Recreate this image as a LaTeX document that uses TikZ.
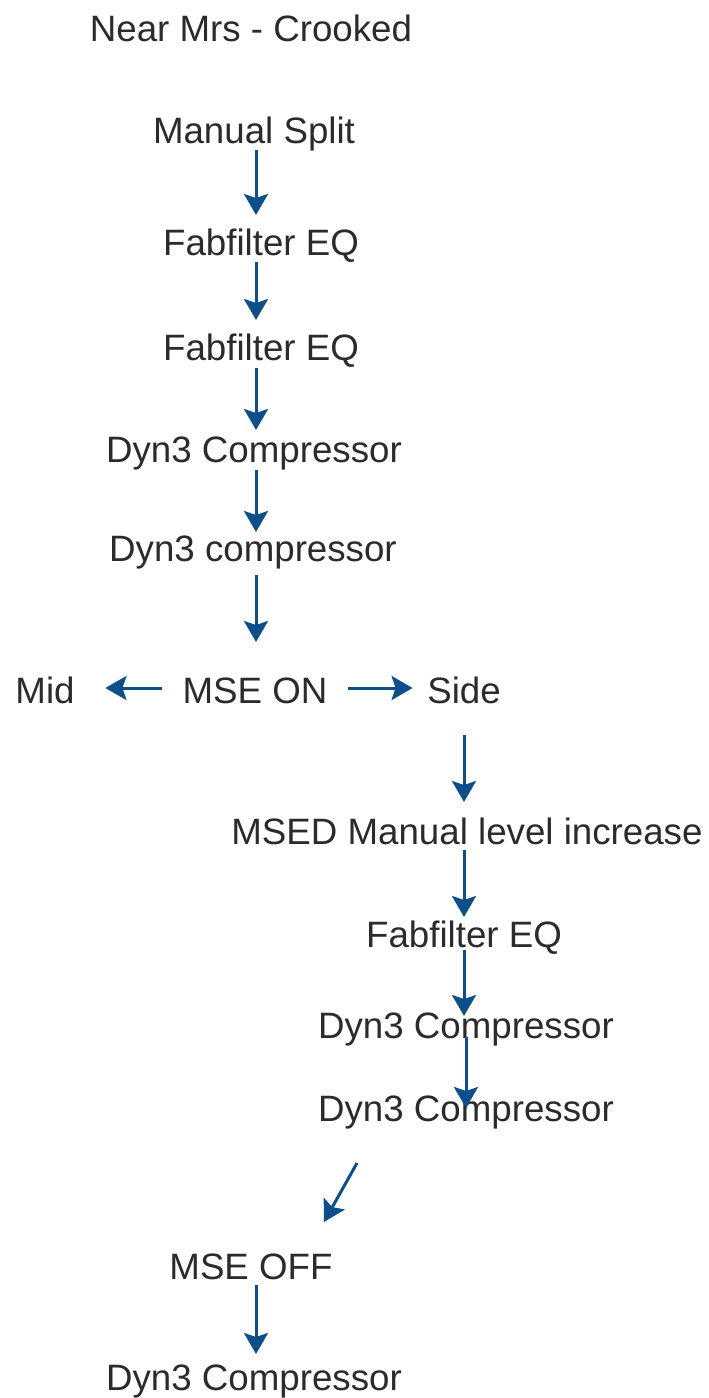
\documentclass[tikz,border=0pt]{standalone}
\usepackage{fontspec}
\setmainfont{Liberation Sans}
\usetikzlibrary{arrows.meta}
\definecolor{flowblue}{HTML}{0D4F8B}
\definecolor{inkgrey}{HTML}{2B2B2B}
\begin{document}
\begin{tikzpicture}[x=1pt,y=1pt,line join=round,
	lbl/.style={anchor=base,inner sep=0pt,text=inkgrey,font=\fontsize{36.7}{44}\selectfont},
	flowarrow/.style={draw=flowblue,line width=3pt,-{Stealth[length=21pt,width=24pt,inset=4pt]}}]
	\useasboundingbox (0,0) rectangle (709,-1398);
	% labels, top to bottom
	\path
	(251,-41)node[lbl](title){Near Mrs - Crooked}
	(254,-143)node[lbl](split){Manual Split}
	(261,-255)node[lbl](fabA){Fabfilter EQ}
	(261,-360)node[lbl](fabB){Fabfilter EQ}
	(254,-462)node[lbl](dynA){Dyn3 Compressor}
	(253,-561)node[lbl](dynB){Dyn3 compressor}
	(255,-703)node[lbl](mseon){MSE ON}
	(45,-703)node[lbl](mid){Mid}
	(464,-703)node[lbl](side){Side}
	(467,-844)node[lbl](msed){MSED Manual level increase}
	(464,-947)node[lbl](fabC){Fabfilter EQ}
	(466,-1038)node[lbl](dynC){Dyn3 Compressor}
	(466,-1121)node[lbl](dynD){Dyn3 Compressor}
	(251,-1279)node[lbl](mseoff){MSE OFF}
	(254,-1390)node[lbl](dynE){Dyn3 Compressor}
	;
	% chain
	\draw[flowarrow](split.base) ++(2,-7) -- ++(0,-65);
	\draw[flowarrow](fabA.base) ++(-5,-7) -- ++(0,-58);
	\draw[flowarrow](fabB.base) ++(-5,-8) -- ++(0,-62);
	\draw[flowarrow](dynA.base) ++(2,-8) -- ++(0,-62);
	\draw[flowarrow](dynB.base) ++(3,-14) -- ++(0,-67);
	\draw[flowarrow](mseon.base west) ++(-20,15) -- ++(-57,0);
	\draw[flowarrow](mseon.base east) ++(20,15) -- ++(65,0);
	\draw[flowarrow](side.base) ++(0,-32) -- ++(0,-67);
	\draw[flowarrow](msed.base) ++(-3,-6) -- ++(0,-67);
	\draw[flowarrow](fabC.base) ++(0,-3) -- ++(0,-66);
	\draw[flowarrow](dynC.base) ++(0,1) -- ++(0,-71);
	\draw[flowarrow](dynD.base) ++(-109,-42) -- ++(-33,-59);
	\draw[flowarrow](mseoff.base) ++(5,-6) -- ++(0,-69);
\end{tikzpicture}
\end{document}
